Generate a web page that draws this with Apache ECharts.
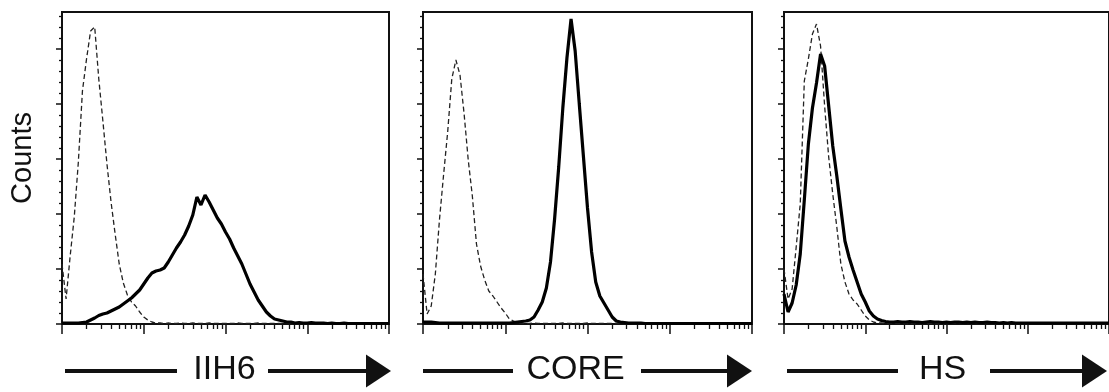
<!DOCTYPE html>
<html>
<head>
<meta charset="utf-8">
<script src="https://cdn.jsdelivr.net/npm/echarts@6/dist/echarts.min.js"></script>
<style>
  html, body { margin: 0; padding: 0; background: #fff; }
  #chart { width: 1109px; height: 392px; }
</style>
</head>
<body>
<div id="chart"></div>
<script>
// x: log10 fluorescence (decades 0..4), histogram channel positions
const decades = [
  0.00,0.05,0.10,0.15,0.20,0.25,0.30,0.35,0.40,0.45,
  0.50,0.55,0.60,0.65,0.70,0.75,0.80,0.85,0.90,0.95,
  1.00,1.05,1.10,1.15,1.20,1.25,1.30,1.35,1.40,1.45,
  1.50,1.55,1.60,1.65,1.70,1.75,1.80,1.85,1.90,1.95,
  2.00,2.05,2.10,2.15,2.20,2.25,2.30,2.35,2.40,2.45,
  2.50,2.55,2.60,2.65,2.70,2.75,2.80,2.85,2.90,2.95,
  3.00,3.05,3.10,3.15,3.20,3.25,3.30,3.35,3.40,3.45,
  3.50,3.55,3.60,3.65,3.70,3.75,3.80,3.85,3.90,3.95,
  4.00
];

const markers = ['IIH6', 'CORE', 'HS'];
const yAxisTitle = 'Counts';

// Panel 1: IIH6
const iih6Control = [
  60,25,68,107,162,233,265,293,297,245,
  203,160,122,90,60,41,29,22,18,12,
  7,4,2,1,1,0.5,1,0.5,0.5,1,
  0.5,0.5,1,0.5,0.5,0.5,1,0.5,0.5,0.5,
  0.5,0.5,0.5,1,0.5,0.5,0.5,0.5,1,0.5,
  0.5,0.5,0.5,0.5,0.5,1,0.5,0.5,0.5,0.5,
  0.5,0.5,0.5,0.5,0.5,0.5,0.5,0.5,0.5,0.5,
  0.5,0.5,0.5,0.5,0.5,0.5,0.5,0.5,0.5,0.5,
  0.5
];
const iih6Stained = [
  1,1,1,1,1,1.5,2,4,6,8.5,
  10,11,13,15,17,20,23,26,30,34,
  40,46,51,53,54,56,62,69,76,82,
  89,98,109,127,119,129,122,114,106,100,
  92,85,76,68,60,50,40,32,24,18,
  12,8,5,4,3,2,2,1,1.5,1,
  1,1.5,1,1,1,0.5,1,0.5,0.5,1,
  0.5,0.5,0.5,0.5,0.5,0.5,0.5,0.5,0.5,0.5,
  0.5
];

// Panel 2: CORE
const coreControl = [
  50,10,18,50,104,149,192,245,264,249,
  210,164,128,80,58,44,33,28,22,16,
  11,5,3,1,1,0.5,0.5,1,0.5,0.5,
  0.5,0.5,0.5,0.5,1,0.5,0.5,0.5,0.5,0.5,
  1,0.5,0.5,0.5,0.5,0.5,0.5,0.5,0.5,0.5,
  0.5,0.5,0.5,0.5,0.5,0.5,0.5,0.5,0.5,0.5,
  0.5,0.5,0.5,0.5,0.5,0.5,0.5,0.5,0.5,0.5,
  0.5,0.5,0.5,0.5,0.5,0.5,0.5,0.5,0.5,0.5,
  0.5
];
const coreStained = [
  2,2,2,1.5,1,1,1,1,1,1,
  1,1,1,1,1,1,1,1,1,1,
  1,1,1.5,2,2.5,3,4,7,14,22,
  36,62,105,157,216,266,305,273,220,168,
  116,72,42,28,21,14,7,3,2,1.5,
  1,1,1,1,0.5,0.5,0.5,0.5,0.5,0.5,
  0.5,0.5,0.5,0.5,0.5,0.5,0.5,0.5,0.5,0.5,
  0.5,0.5,0.5,0.5,0.5,0.5,0.5,0.5,0.5,0.5,
  0.5
];

// Panel 3: HS
const hsControl = [
  55,25,35,77,120,243,265,290,300,278,
  218,167,130,97,60,42,30,24,20,14,
  8,4,2,1,1,0.5,0.5,1,0.5,0.5,
  0.5,0.5,0.5,0.5,0.5,0.5,0.5,0.5,0.5,0.5,
  0.5,0.5,0.5,0.5,0.5,0.5,0.5,0.5,0.5,0.5,
  0.5,0.5,0.5,0.5,0.5,0.5,0.5,0.5,0.5,0.5,
  0.5,0.5,0.5,0.5,0.5,0.5,0.5,0.5,0.5,0.5,
  0.5,0.5,0.5,0.5,0.5,0.5,0.5,0.5,0.5,0.5,
  0.5
];
const hsStained = [
  30,12,21,39,70,124,180,216,241,270,
  258,218,178,148,115,83,67,54,42,30,
  22,13,8,5,3.5,2.5,2,2,2.5,2,
  2,2.5,2,2,1.5,2,2.5,2,2,1.5,
  2,1.5,2,2,1.5,2,1.5,2,1.5,1.5,
  2,1.5,1.5,1,1.5,1,1.5,1,1,1,
  1,1,1,1,1,1,1,1,1,1,
  1,1,1,1,1,1,1,1,1,1,
  1
];

// axis ticks
const xMajorTicks = [0, 1, 2, 3, 4];
const xMinorMultipliers = [2, 3, 4, 5, 6, 7, 8, 9];
const yMax = 312;
const yMajorTicks = [0, 55, 110, 165, 220, 275];
const yMinorTicks = [11,22,33,44,66,77,88,99,121,132,143,154,176,187,198,209,231,242,253,264,286,297,308];

const panels = [
  { name: markers[0], control: iih6Control, stained: iih6Stained, left: 62, width: 327 },
  { name: markers[1], control: coreControl, stained: coreStained, left: 423, width: 329 },
  { name: markers[2], control: hsControl, stained: hsStained, left: 784, width: 327 }
];

const xMinorTicks = [];
for (let d = 0; d < 4; d++) {
  xMinorMultipliers.forEach(k => xMinorTicks.push(d + Math.log10(k)));
}

const ink = '#111';
const grids = [], xAxes = [], yAxes = [], series = [];
panels.forEach((p, i) => {
  grids.push({ left: p.left, top: 12, width: p.width, height: 312, show: true,
               borderColor: ink, borderWidth: 2, backgroundColor: 'transparent' });
  xAxes.push({ type: 'value', gridIndex: i, min: 0, max: 4, position: 'bottom',
    axisLine: { show: true, onZero: false, lineStyle: { color: ink, width: 2 } },
    axisTick: { show: true, customValues: xMajorTicks, length: 10, lineStyle: { color: ink, width: 1.5 } },
    axisLabel: { show: false }, splitLine: { show: false } });
  xAxes.push({ type: 'value', gridIndex: i, min: 0, max: 4, position: 'bottom',
    axisLine: { show: false, onZero: false },
    axisTick: { show: true, customValues: xMinorTicks, length: 5, lineStyle: { color: ink, width: 1.3 } },
    axisLabel: { show: false }, splitLine: { show: false } });
  yAxes.push({ type: 'value', gridIndex: i, min: 0, max: yMax, position: 'left',
    axisLine: { show: true, onZero: false, lineStyle: { color: ink, width: 2 } },
    axisTick: { show: true, customValues: yMajorTicks, length: 6, lineStyle: { color: ink, width: 1.5 } },
    axisLabel: { show: false }, splitLine: { show: false } });
  yAxes.push({ type: 'value', gridIndex: i, min: 0, max: yMax, position: 'left',
    axisLine: { show: false, onZero: false },
    axisTick: { show: true, customValues: yMinorTicks, length: 3, lineStyle: { color: ink, width: 1.3 } },
    axisLabel: { show: false }, splitLine: { show: false } });
  series.push({ type: 'line', name: p.name + ' control', xAxisIndex: 2 * i, yAxisIndex: 2 * i,
    data: decades.map((d, j) => [d, p.control[j]]), showSymbol: false, z: 2,
    lineStyle: { color: '#222', width: 1.3, type: [5, 3] } });
  series.push({ type: 'line', name: p.name, xAxisIndex: 2 * i, yAxisIndex: 2 * i,
    data: decades.map((d, j) => [d, p.stained[j]]), showSymbol: false, z: 3,
    lineStyle: { color: '#000', width: 3.2 } });
});

// bottom marker labels with arrows
const arrowSpecs = [
  { text: markers[0], lineL: [65, 177], cx: 224.5, lineR: [268, 368], tipX: 391 },
  { text: markers[1], lineL: [423, 513], cx: 575.5, lineR: [641, 729], tipX: 752 },
  { text: markers[2], lineL: [787, 898], cx: 942.5, lineR: [990, 1084], tipX: 1107 }
];
const ay = 371;
const graphics = [{
  type: 'text', left: 8, top: 112, rotation: Math.PI / 2,
  style: { text: yAxisTitle, x: 0, y: 0, fill: ink, font: '29px "Liberation Sans", Arial, sans-serif' }
}];
arrowSpecs.forEach(a => {
  graphics.push({ type: 'line', shape: { x1: a.lineL[0], y1: ay, x2: a.lineL[1], y2: ay },
    style: { stroke: ink, lineWidth: 4 } });
  graphics.push({ type: 'line', shape: { x1: a.lineR[0], y1: ay, x2: a.lineR[1], y2: ay },
    style: { stroke: ink, lineWidth: 4 } });
  graphics.push({ type: 'polygon', shape: { points: [[a.tipX - 25, ay - 16.5], [a.tipX, ay], [a.tipX - 25, ay + 16.5]] },
    style: { fill: ink } });
  graphics.push({ type: 'text', x: a.cx, y: 370,
    style: { text: a.text, fill: ink, align: 'center', verticalAlign: 'middle',
             font: '34px "Liberation Sans", Arial, sans-serif' } });
});

const chart = echarts.init(document.getElementById('chart'), null, { renderer: 'canvas' });
chart.setOption({
  animation: false,
  backgroundColor: '#fff',
  textStyle: { fontFamily: '"Liberation Sans", Arial, sans-serif' },
  grid: grids, xAxis: xAxes, yAxis: yAxes, series: series,
  graphic: graphics
});
</script>
</body>
</html>
